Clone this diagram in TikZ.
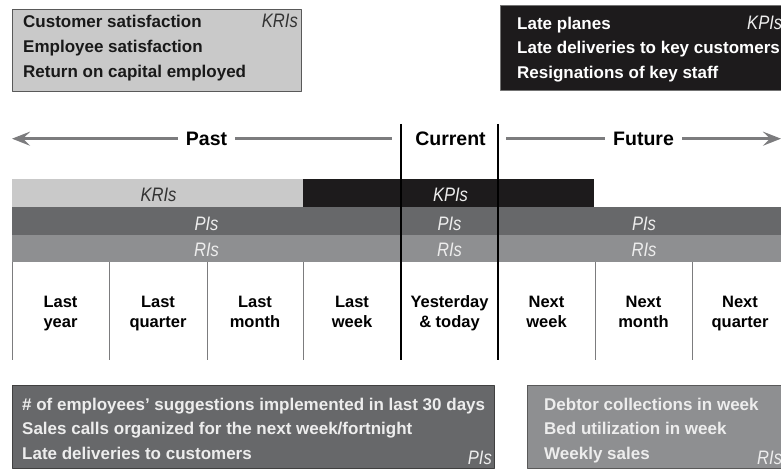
\documentclass[tikz,border=0pt]{standalone}
\usepackage{fontspec}
\setmainfont{Liberation Sans}
\newfontfamily\tagfont{Liberation Sans}[FakeStretch=0.85]
\usetikzlibrary{arrows.meta}
\definecolor{krigrey}{HTML}{C9C9C9}
\definecolor{pigrey}{HTML}{67686A}
\definecolor{rigrey}{HTML}{8E8F91}
\definecolor{kpiblack}{HTML}{1D1B1C}
\definecolor{linegrey}{HTML}{7C7C7E}
\definecolor{paleink}{HTML}{EDEDED}
\tikzset{
  listtext/.style={anchor=base west,inner sep=0pt,font=\bfseries\fontsize{17}{20}\selectfont},
  celltext/.style={anchor=base,inner sep=0pt,font=\bfseries\fontsize{16.5}{20}\selectfont},
  tagtext/.style={inner sep=0pt,font=\tagfont\itshape\fontsize{19.5}{22}\selectfont},
  headtext/.style={anchor=base,inner ysep=0pt,inner xsep=8pt,font=\bfseries\fontsize{19.5}{22}\selectfont},
  timeline/.style={linegrey,line width=3.5pt},
  divider/.style={linegrey,line width=0.8pt},
  nowline/.style={black,line width=1.1pt}
}
\begin{document}
\begin{tikzpicture}[x=1pt,y=-1pt,line join=round,>={Stealth[length=18pt,width=14pt,inset=7pt]}]
	\useasboundingbox (0,0) rectangle (781,470);
	\coordinate (pastend) at (12,139);
	\coordinate (futureend) at (781,139);
	\coordinate (nowtop) at (401,124);
	\coordinate (nowbot) at (401,360);
	\coordinate (nexttop) at (498,124);
	\coordinate (nextbot) at (498,360);
	\filldraw[fill=krigrey,draw=black!65,line width=0.9pt] (12,9) rectangle (301,91);
	\filldraw[fill=kpiblack,draw=black!55,line width=0.9pt] (500,5) rectangle (795,90);
	\filldraw[fill=pigrey,draw=black!75,line width=0.9pt] (12,385) rectangle (494,468);
	\filldraw[fill=rigrey,draw=black!65,line width=0.9pt] (527,385) rectangle (795,468);
	\fill[krigrey] (12,179) rectangle (303,207);
	\fill[kpiblack] (303,179) rectangle (594,207);
	\fill[pigrey] (12,207) rectangle (781,235);
	\fill[rigrey] (12,235) rectangle (781,262);
	\foreach \x in {12,109,207,303,595,692} \draw[divider] (\x,262) -- (\x,360);
	\draw[nowline] (nowtop) -- (nowbot);
	\draw[nowline] (nexttop) -- (nextbot);
	\foreach \t [count=\i] in {Customer satisfaction,Employee satisfaction,Return on capital employed}
		\node[listtext,text=black!90] (kri\i) at (23,2.5+25*\i) {\t};
	\foreach \t [count=\i] in {Late planes,Late deliveries to key customers,Resignations of key staff}
		\node[listtext,text=white] (kpi\i) at (517,5+24.5*\i) {\t};
	\foreach \t [count=\i] in {\# of employees' suggestions implemented in last 30 days,Sales calls organized for the next week/fortnight,Late deliveries to customers}
		\node[listtext,text=paleink] (pi\i) at (22,385.5+24.5*\i) {\t};
	\foreach \t [count=\i] in {Debtor collections in week,Bed utilization in week,Weekly sales}
		\node[listtext,text=paleink] (ri\i) at (544,385.5+24.5*\i) {\t};
	\node[tagtext,anchor=base east,text=black!80] (kritag) at (298,28) {KRIs};
	\node[tagtext,anchor=base west,text=paleink] (kpitag) at (747,29.5) {KPIs};
	\node[tagtext,anchor=base east,text=paleink] (pitag) at (492,464) {PIs};
	\node[tagtext,anchor=base west,text=paleink] (ritag) at (757,464) {RIs};
	\node[headtext] (past) at (206.5,145.3) {Past};
	\node[headtext] (current) at (450.5,145.3) {Current};
	\node[headtext] (future) at (643.5,145.3) {Future};
	\draw[timeline,->] (past.west) -- (past.west -| pastend);
	\draw[timeline,shorten >=9pt] (past.east) -- (past.east -| nowtop);
	\draw[timeline,shorten <=8pt] (future.west -| nexttop) -- (future.west);
	\draw[timeline,->] (future.east) -- (future.east -| futureend);
	\node[tagtext,anchor=base,text=black!80] (krilabel) at (158.5,202) {KRIs};
	\node[tagtext,anchor=base,text=paleink] (kpilabel) at (450.5,202) {KPIs};
	\foreach \x/\n in {206.5/past,449.5/now,644/next} {
		\node[tagtext,anchor=base,text=paleink] (pi\n) at (\x,230.5) {PIs};
		\node[tagtext,anchor=base,text=paleink] (ri\n) at (\x,257) {RIs};
	}
	\foreach \x/\a/\b [count=\i] in {60.5/Last/year,158/Last/quarter,255/Last/month,352/Last/week,449.5/Yesterday/\& today,546.5/Next/week,643.5/Next/month,740/Next/quarter} {
		\node[celltext] (up\i) at (\x,307.5) {\a};
		\node[celltext] (lo\i) at (\x,327.5) {\b};
	}
\end{tikzpicture}
\end{document}
